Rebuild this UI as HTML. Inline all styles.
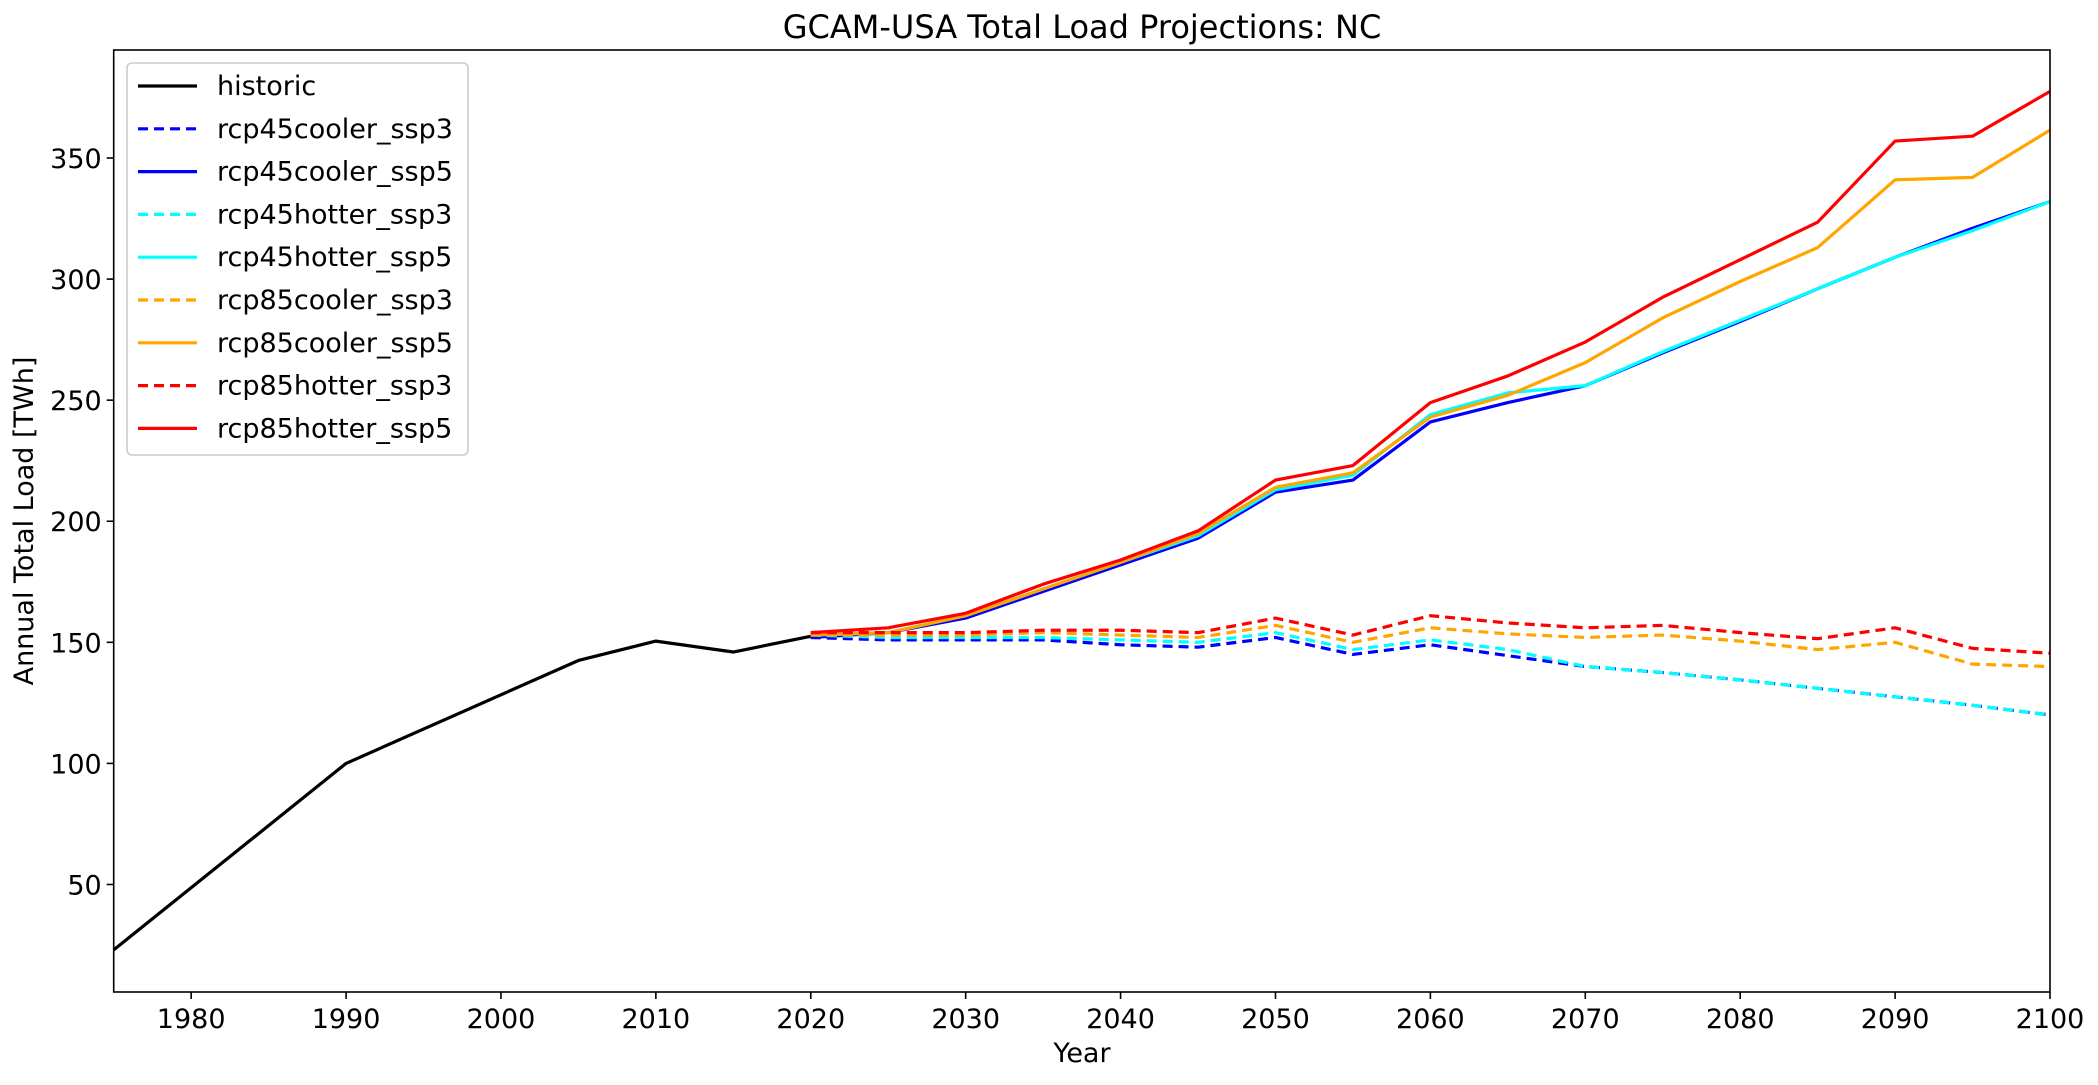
<!DOCTYPE html>
<html><head><meta charset="utf-8"><style>
body{margin:0;background:#fff}
svg text{font-family:"DejaVu Sans","Liberation Sans",sans-serif;fill:#000}
</style></head><body>
<svg id="chart" width="2098" height="1080" xmlns="http://www.w3.org/2000/svg">
<rect width="2098" height="1080" fill="#fff"/>
<text x="1082" y="38" font-size="32" text-anchor="middle">GCAM-USA Total Load Projections: NC</text>
<g id="plot"></g>
<rect x="113.7" y="50" width="1936.3" height="942" fill="none" stroke="#000" stroke-width="1.6"/>
<g id="xticks"></g><g id="yticks"></g>
<text x="1082" y="1062" font-size="27" text-anchor="middle">Year</text>
<text transform="translate(33,521) rotate(-90)" font-size="27" text-anchor="middle">Annual Total Load [TWh]</text>
<g id="legend"></g>
</svg>
<script>
const histYears=[1975,1990,2005,2010,2015,2020];
const histVals=[23,100,142.5,150.5,146,152.5];
const projYears=[2020,2025,2030,2035,2040,2045,2050,2055,2060,2065,2070,2075,2080,2085,2090,2095,2100];
const r45c3=[152,151,151,151,149,148,152,145,149,144.5,140,137.5,134.5,131,127.5,124,120];
const r45c5=[152,154,160,171,182,193,212,217,241,249,256,269.5,282.5,296,309,321,332];
const r45h3=[153,152,152,152,151,150,154,147,151,147,140,137.5,134.5,131,127.5,124,120];
const r45h5=[153,154,161,172,183,194,213,219,244,253,256,270,283,296,309,320,332];
const r85c3=[153,153,153,154,153,152,157,150,156,153.5,152,153,150.5,147,150,141,140];
const r85c5=[153,154,161,172,183,195,214,220,243,252,265.5,284,299,313,341,342,361.5];
const r85h3=[154,154,154,155,155,154,160,153,161,158,156,157,154,151.5,156,147.5,145.5];
const r85h5=[154,156,162,174,184,196,217,223,249,260,274,292.5,308,323.5,357,359,377.5];
const xTicks=[1980,1990,2000,2010,2020,2030,2040,2050,2060,2070,2080,2090,2100];
const yTicks=[50,100,150,200,250,300,350];
const series=[
 {n:'historic',x:histYears,v:histVals,c:'#000',d:null},
 {n:'rcp45cooler_ssp3',x:projYears,v:r45c3,c:'#0000ff',d:'10 6'},
 {n:'rcp45cooler_ssp5',x:projYears,v:r45c5,c:'#0000ff',d:null},
 {n:'rcp45hotter_ssp3',x:projYears,v:r45h3,c:'#00ffff',d:'10 6'},
 {n:'rcp45hotter_ssp5',x:projYears,v:r45h5,c:'#00ffff',d:null},
 {n:'rcp85cooler_ssp3',x:projYears,v:r85c3,c:'#ffa500',d:'10 6'},
 {n:'rcp85cooler_ssp5',x:projYears,v:r85c5,c:'#ffa500',d:null},
 {n:'rcp85hotter_ssp3',x:projYears,v:r85h3,c:'#ff0000',d:'10 6'},
 {n:'rcp85hotter_ssp5',x:projYears,v:r85h5,c:'#ff0000',d:null}];
const L=113.7,R=2050,T=50,B=992;
const X=y=>L+(y-1975)/125*(R-L);
const Y=v=>B-(v-5.6)/(394.6-5.6)*(B-T);
const NS='http://www.w3.org/2000/svg';
function mk(t,a,p){const e=document.createElementNS(NS,t);for(const k in a)e.setAttribute(k,a[k]);p.appendChild(e);return e;}
const plot=document.getElementById('plot');
series.forEach(s=>{
 const p=mk('polyline',{points:s.x.map((x,i)=>X(x)+','+Y(s.v[i])).join(' '),fill:'none',stroke:s.c,'stroke-width':3.2,'stroke-linejoin':'round'},plot);
 if(s.d)p.setAttribute('stroke-dasharray',s.d);
 
 
});
const xt=document.getElementById('xticks');
xTicks.forEach(t=>{
 const l=mk('line',{x1:X(t),x2:X(t),y1:B,y2:B+7,stroke:'#000','stroke-width':1.6},xt);
 
 
 const tx=mk('text',{x:X(t),y:B+36,'font-size':27,'text-anchor':'middle'},xt);tx.textContent=t;
 
 
});
const yt=document.getElementById('yticks');
yTicks.forEach(t=>{
 const l=mk('line',{x1:L-7,x2:L,y1:Y(t),y2:Y(t),stroke:'#000','stroke-width':1.6},yt);
 
 
 const tx=mk('text',{x:L-12,y:Y(t)+10,'font-size':27,'text-anchor':'end'},yt);tx.textContent=t;
 
 
});
const lg=document.getElementById('legend');


mk('rect',{x:127,y:63,width:341,height:392,rx:5,fill:'#fff','fill-opacity':0.8,stroke:'#ccc','stroke-width':1.6},lg);
series.forEach((s,i)=>{
 const y=86+i*42.8;
 const g=mk('g',{},lg);
 
 
 const l=mk('line',{x1:138,x2:197,y1:y,y2:y,stroke:s.c,'stroke-width':3.2},g);
 if(s.d)l.setAttribute('stroke-dasharray',s.d);
 const t=mk('text',{x:217,y:y+9,'font-size':27},g);t.textContent=s.n;
});
</script>
</body></html>
